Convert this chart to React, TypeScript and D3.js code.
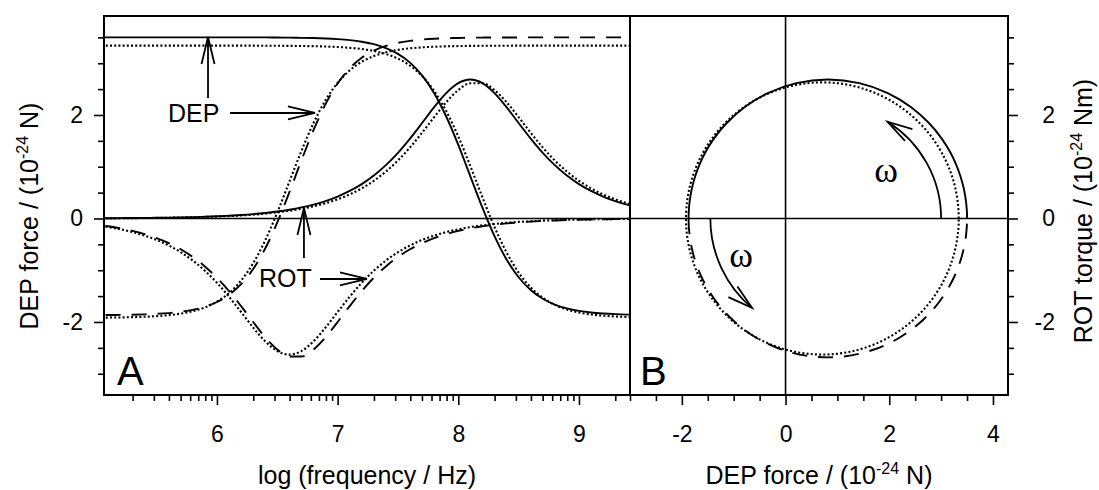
import React, { useRef, useEffect } from 'react';
import * as d3 from 'd3';

// log10(frequency / Hz) at which the curves were read
const logFreq = [
  4.0, 4.5,
  5.0, 5.1, 5.2, 5.3, 5.4, 5.5, 5.6, 5.7, 5.8, 5.9,
  6.0, 6.1, 6.2, 6.3, 6.4, 6.5, 6.6, 6.7, 6.8, 6.9,
  7.0, 7.1, 7.2, 7.3, 7.4, 7.5, 7.6, 7.7, 7.8, 7.9,
  8.0, 8.1, 8.2, 8.3, 8.4, 8.5, 8.6, 8.7, 8.8, 8.9,
  9.0, 9.1, 9.2, 9.3, 9.4, 9.5,
  10.0, 10.5, 11.0,
];

// first cell, solid line (DEP force 1e-24 N, ROT torque 1e-24 Nm)
const depSolid = [
  3.5, 3.5,
  3.5, 3.5, 3.5, 3.5, 3.5, 3.5, 3.5, 3.5, 3.5, 3.5,
  3.5, 3.5, 3.5, 3.5, 3.5, 3.497, 3.495, 3.491, 3.487, 3.479,
  3.466, 3.447, 3.416, 3.368, 3.294, 3.182, 3.012, 2.765, 2.422, 1.971,
  1.422, 0.815, 0.208, -0.341, -0.792, -1.135, -1.382, -1.552, -1.664, -1.738,
  -1.786, -1.817, -1.836, -1.849, -1.857, -1.861,
  -1.869, -1.87, -1.87,
];
const rotSolid = [
  0.0, 0.001,
  0.004, 0.005, 0.007, 0.009, 0.011, 0.013, 0.017, 0.021, 0.027, 0.034,
  0.042, 0.054, 0.068, 0.085, 0.107, 0.135, 0.17, 0.214, 0.269, 0.337,
  0.424, 0.532, 0.665, 0.83, 1.031, 1.269, 1.544, 1.845, 2.151, 2.423,
  2.615, 2.685, 2.615, 2.423, 2.151, 1.845, 1.544, 1.269, 1.031, 0.83,
  0.665, 0.532, 0.424, 0.337, 0.269, 0.214,
  0.068, 0.021, 0.007,
];

// first cell, dotted line
const depDotted1 = [
  3.34, 3.34,
  3.34, 3.34, 3.34, 3.34, 3.34, 3.34, 3.34, 3.34, 3.34, 3.34,
  3.34, 3.34, 3.34, 3.34, 3.338, 3.337, 3.336, 3.333, 3.33, 3.323,
  3.314, 3.298, 3.275, 3.237, 3.179, 3.089, 2.953, 2.752, 2.465, 2.076,
  1.584, 1.011, 0.409, -0.164, -0.656, -1.045, -1.332, -1.533, -1.669, -1.759,
  -1.817, -1.855, -1.878, -1.894, -1.903, -1.909,
  -1.919, -1.92, -1.92,
];
const rotDotted1 = [
  0.0, 0.001,
  0.004, 0.005, 0.006, 0.007, 0.009, 0.012, 0.015, 0.019, 0.024, 0.03,
  0.037, 0.047, 0.059, 0.074, 0.094, 0.118, 0.148, 0.187, 0.235, 0.295,
  0.371, 0.465, 0.583, 0.729, 0.907, 1.121, 1.373, 1.658, 1.959, 2.248,
  2.481, 2.613, 2.613, 2.481, 2.248, 1.959, 1.658, 1.373, 1.121, 0.907,
  0.729, 0.583, 0.465, 0.371, 0.295, 0.235,
  0.074, 0.024, 0.007,
];

// second cell, dashed line
const depDashed = [
  -1.87, -1.87,
  -1.867, -1.866, -1.863, -1.859, -1.853, -1.843, -1.828, -1.803, -1.765, -1.705,
  -1.614, -1.475, -1.27, -0.977, -0.58, -0.077, 0.507, 1.123, 1.707, 2.21,
  2.607, 2.9, 3.105, 3.244, 3.335, 3.395, 3.433, 3.458, 3.473, 3.483,
  3.489, 3.493, 3.496, 3.497, 3.498, 3.499, 3.5, 3.5, 3.5, 3.5,
  3.5, 3.5, 3.5, 3.5, 3.5, 3.5,
  3.5, 3.5, 3.5,
];
const rotDashed = [
  -0.012, -0.038,
  -0.12, -0.151, -0.19, -0.239, -0.301, -0.379, -0.475, -0.595, -0.744, -0.926,
  -1.145, -1.402, -1.693, -2.0, -2.295, -2.532, -2.667, -2.667, -2.532, -2.295,
  -2.0, -1.693, -1.402, -1.145, -0.926, -0.744, -0.595, -0.475, -0.379, -0.301,
  -0.24, -0.19, -0.151, -0.12, -0.095, -0.076, -0.06, -0.048, -0.038, -0.03,
  -0.024, -0.019, -0.015, -0.012, -0.01, -0.008,
  -0.002, -0.001, 0.0,
];

// second cell, dotted line
const depDotted2 = [
  -1.92, -1.92,
  -1.917, -1.915, -1.912, -1.907, -1.899, -1.887, -1.868, -1.838, -1.791, -1.719,
  -1.608, -1.442, -1.2, -0.864, -0.422, 0.115, 0.71, 1.305, 1.842, 2.284,
  2.62, 2.862, 3.028, 3.139, 3.211, 3.258, 3.288, 3.307, 3.319, 3.327,
  3.332, 3.335, 3.337, 3.338, 3.339, 3.34, 3.34, 3.34, 3.34, 3.34,
  3.34, 3.34, 3.34, 3.34, 3.34, 3.34,
  3.34, 3.34, 3.34,
];
const rotDotted2 = [
  -0.013, -0.042,
  -0.132, -0.166, -0.209, -0.263, -0.33, -0.415, -0.521, -0.652, -0.813, -1.009,
  -1.243, -1.512, -1.807, -2.107, -2.374, -2.562, -2.63, -2.562, -2.374, -2.107,
  -1.807, -1.512, -1.243, -1.009, -0.813, -0.652, -0.521, -0.415, -0.33, -0.263,
  -0.209, -0.166, -0.132, -0.105, -0.083, -0.066, -0.053, -0.042, -0.033, -0.026,
  -0.021, -0.017, -0.013, -0.011, -0.008, -0.007,
  -0.002, -0.001, 0.0,
];

const freqLabels = [6, 7, 8, 9];
const forceLabels = [-2, 0, 2];
const depLabels = [-2, 0, 2, 4];

const FONT = '"Liberation Sans", Arial, Helvetica, sans-serif';
const SERIF = '"Liberation Serif", "Times New Roman", serif';

function DielectricFigure() {
    const ref = useRef<SVGSVGElement>(null);

    useEffect(() => {
        const width = 1099, height = 490;
        const top = 16, bottom = 395;
        const leftA = 104, splitX = 630, rightB = 1008;

        const svg = d3.select(ref.current)
            .attr("width", width)
            .attr("height", height);
        svg.selectAll("*").remove();

        const xA = d3.scaleLinear().domain([5.064, 9.423]).range([leftA, splitX]);
        const xB = d3.scaleLinear().domain([-3, 4.29]).range([splitX, rightB]);
        const y = d3.scaleLinear().domain([-3.411, 3.913]).range([bottom, top]);

        const defs = svg.append("defs");
        defs.append("clipPath").attr("id", "clip-a").append("rect")
            .attr("x", leftA).attr("y", top)
            .attr("width", splitX - leftA).attr("height", bottom - top);
        defs.append("clipPath").attr("id", "clip-b").append("rect")
            .attr("x", splitX).attr("y", top)
            .attr("width", rightB - splitX).attr("height", bottom - top);

        const DOT = "2,2.2";
        const DASH = "15,11";
        const series = [
            { dep: depDashed, rot: rotDashed, dash: DASH, w: 1.9 },
            { dep: depDotted2, rot: rotDotted2, dash: DOT, w: 2.1 },
            { dep: depDotted1, rot: rotDotted1, dash: DOT, w: 2.1 },
            { dep: depSolid, rot: rotSolid, dash: null, w: 1.9 },
        ];

        // zero lines
        svg.append("line")
            .attr("x1", leftA).attr("x2", rightB)
            .attr("y1", y(0)).attr("y2", y(0))
            .attr("stroke", "#000").attr("stroke-width", 1.6);
        svg.append("line")
            .attr("x1", xB(0)).attr("x2", xB(0))
            .attr("y1", top).attr("y2", bottom)
            .attr("stroke", "#000").attr("stroke-width", 1.6);

        const gA = svg.append("g").attr("clip-path", "url(#clip-a)");
        const gB = svg.append("g").attr("clip-path", "url(#clip-b)");

        const spectrum = d3.line<number>()
            .x((_, i) => xA(logFreq[i]))
            .y(d => y(d))
            .curve(d3.curveMonotoneX);

        series.forEach(s => {
            [s.dep, s.rot].forEach(vals => {
                gA.append("path")
                    .attr("d", spectrum(vals))
                    .attr("fill", "none")
                    .attr("stroke", "#000")
                    .attr("stroke-width", s.w)
                    .attr("stroke-dasharray", s.dash);
            });
            const circle = d3.line<number>()
                .x(i => xB(s.dep[i]))
                .y(i => y(s.rot[i]))
                .curve(d3.curveCatmullRom.alpha(0.5));
            gB.append("path")
                .attr("d", circle(d3.range(logFreq.length)))
                .attr("fill", "none")
                .attr("stroke", "#000")
                .attr("stroke-width", s.w)
                .attr("stroke-dasharray", s.dash);
        });

        // frame
        svg.append("rect")
            .attr("x", leftA).attr("y", top)
            .attr("width", rightB - leftA).attr("height", bottom - top)
            .attr("fill", "none").attr("stroke", "#000").attr("stroke-width", 2);
        svg.append("line")
            .attr("x1", splitX).attr("x2", splitX)
            .attr("y1", top).attr("y2", bottom)
            .attr("stroke", "#000").attr("stroke-width", 2);

        // axes
        const tidy = (g: any) => {
            g.select(".domain").remove();
            g.selectAll("line").attr("stroke", "#000").attr("stroke-width", 1.6);
            g.attr("font-family", FONT).attr("font-size", 23);
            g.selectAll("text").attr("fill", "#000");
        };
        const label = (d: any) => String(d);

        const halves = d3.range(-3, 4.01, 0.5);
        const minorY = halves.filter(v => !forceLabels.includes(v) && v > y.domain()[0] && v < y.domain()[1]);
        const minorB = halves.filter(v => !depLabels.includes(v) && v >= -3 && v < 4.29);
        const minorLog = d3.range(5, 10)
            .flatMap(dec => d3.range(2, 10).map(k => dec + Math.log10(k)))
            .filter(v => v > 5.064 && v < 9.423);

        svg.append("g").attr("transform", `translate(${leftA},0)`)
            .call(d3.axisLeft(y).tickValues(minorY).tickSize(6).tickFormat(() => ""))
            .call(tidy);
        svg.append("g").attr("transform", `translate(${leftA},0)`)
            .call(d3.axisLeft(y).tickValues(forceLabels).tickSize(10).tickPadding(11).tickFormat(label))
            .call(tidy);

        svg.append("g").attr("transform", `translate(${rightB},0)`)
            .call(d3.axisRight(y).tickValues(minorY).tickSize(6).tickFormat(() => ""))
            .call(tidy);
        svg.append("g").attr("transform", `translate(${rightB},0)`)
            .call(d3.axisRight(y).tickValues(forceLabels).tickSize(10).tickFormat(label))
            .call(tidy)
            .call((g: any) => g.selectAll("text").attr("text-anchor", "end").attr("x", 47));

        svg.append("g").attr("transform", `translate(0,${bottom})`)
            .call(d3.axisBottom(xA).tickValues(minorLog).tickSize(6).tickFormat(() => ""))
            .call(tidy);
        svg.append("g").attr("transform", `translate(0,${bottom})`)
            .call(d3.axisBottom(xA).tickValues(freqLabels).tickSize(10).tickPadding(21).tickFormat(label))
            .call(tidy);

        svg.append("g").attr("transform", `translate(0,${bottom})`)
            .call(d3.axisBottom(xB).tickValues(minorB).tickSize(6).tickFormat(() => ""))
            .call(tidy);
        svg.append("g").attr("transform", `translate(0,${bottom})`)
            .call(d3.axisBottom(xB).tickValues(depLabels).tickSize(10).tickPadding(21).tickFormat(label))
            .call(tidy);

        // axis titles
        const title = (x: number, yy: number, rotate: boolean) => {
            const t = svg.append("text")
                .attr("font-family", FONT)
                .attr("font-size", 25)
                .attr("text-anchor", "middle")
                .attr("fill", "#000");
            if (rotate) t.attr("transform", `translate(${x},${yy}) rotate(-90)`);
            else t.attr("x", x).attr("y", yy);
            return t;
        };
        title((leftA + splitX) / 2, 484, false).text("log (frequency / Hz)");

        const supTitle = (t: any, before: string, after: string) => {
            t.append("tspan").text(before);
            t.append("tspan").attr("dy", -10).attr("font-size", 16).text("-24");
            t.append("tspan").attr("dy", 10).text(after);
        };
        supTitle(title((splitX + rightB) / 2, 484, false), "DEP force / (10", " N)");
        supTitle(title(38, 216, true), "DEP force / (10", " N)");
        supTitle(title(1092, 211, true), "ROT torque / (10", " Nm)");

        // panel letters
        svg.append("text").attr("x", 117).attr("y", 385)
            .attr("font-family", FONT).attr("font-size", 40).text("A");
        svg.append("text").attr("x", 640).attr("y", 385)
            .attr("font-family", FONT).attr("font-size", 40).text("B");

        // annotations
        const ink = svg.append("g").attr("fill", "none").attr("stroke", "#000").attr("stroke-width", 1.8);
        const arrowHead = (tx: number, ty: number, bx: number, by: number, len = 27, half = 6.5) => {
            // (bx, by) is the unit vector pointing back from the tip
            const px = -by, py = bx;
            ink.append("path").attr("d",
                `M${tx + len * bx + half * px},${ty + len * by + half * py}` +
                `L${tx},${ty}` +
                `L${tx + len * bx - half * px},${ty + len * by - half * py}`);
        };
        const arrow = (x1: number, y1: number, x2: number, y2: number) => {
            ink.append("line").attr("x1", x1).attr("y1", y1).attr("x2", x2).attr("y2", y2);
            const l = Math.hypot(x1 - x2, y1 - y2);
            arrowHead(x2, y2, (x1 - x2) / l, (y1 - y2) / l);
        };
        const note = (x: number, yy: number, text: string) =>
            svg.append("text").attr("x", x).attr("y", yy)
                .attr("font-family", FONT).attr("font-size", 25).attr("fill", "#000").text(text);

        arrow(xA(5.926), y(2.33), xA(5.926), y(3.507));
        note(xA(5.594), y(1.865), "DEP");
        arrow(xA(6.108), y(2.039), xA(6.812), y(2.039));
        arrow(xA(6.721), y(-0.763), xA(6.721), y(0.203));
        note(xA(6.348), y(-1.324), "ROT");
        arrow(xA(6.854), y(-1.169), xA(7.243), y(-1.169));

        // rotation sense in panel B
        const k = xB(1) - xB(0);
        const omegaArc = (r: number, a0: number, a1: number) => {
            const cx = xB(0.8), cy = y(0), rp = r * k;
            const p = d3.path();
            const f0 = -a0 * Math.PI / 180, f1 = -a1 * Math.PI / 180;
            p.moveTo(cx + rp * Math.cos(f0), cy + rp * Math.sin(f0));
            p.arc(cx, cy, rp, f0, f1, true);
            ink.append("path").attr("d", p.toString());
            const tx = cx + rp * Math.cos(f1), ty = cy + rp * Math.sin(f1);
            arrowHead(tx, ty, -Math.sin(f1), Math.cos(f1), 25, 7);
        };
        omegaArc(2.2, 0, 58);
        omegaArc(2.25, 180, 230);

        const omega = (x: number, yy: number) =>
            svg.append("text").attr("x", x).attr("y", yy)
                .attr("font-family", SERIF).attr("font-size", 36)
                .attr("text-anchor", "middle").attr("fill", "#000").text("ω");
        omega(xB(1.937), y(0.705));
        omega(xB(-0.859), y(-0.937));
    }, []);

    return (
        <svg ref={ref} style={{ position: "absolute", left: 0, top: 0, background: "#fff" }} />
    );
}

export default function App() {
    return <DielectricFigure />;
}
